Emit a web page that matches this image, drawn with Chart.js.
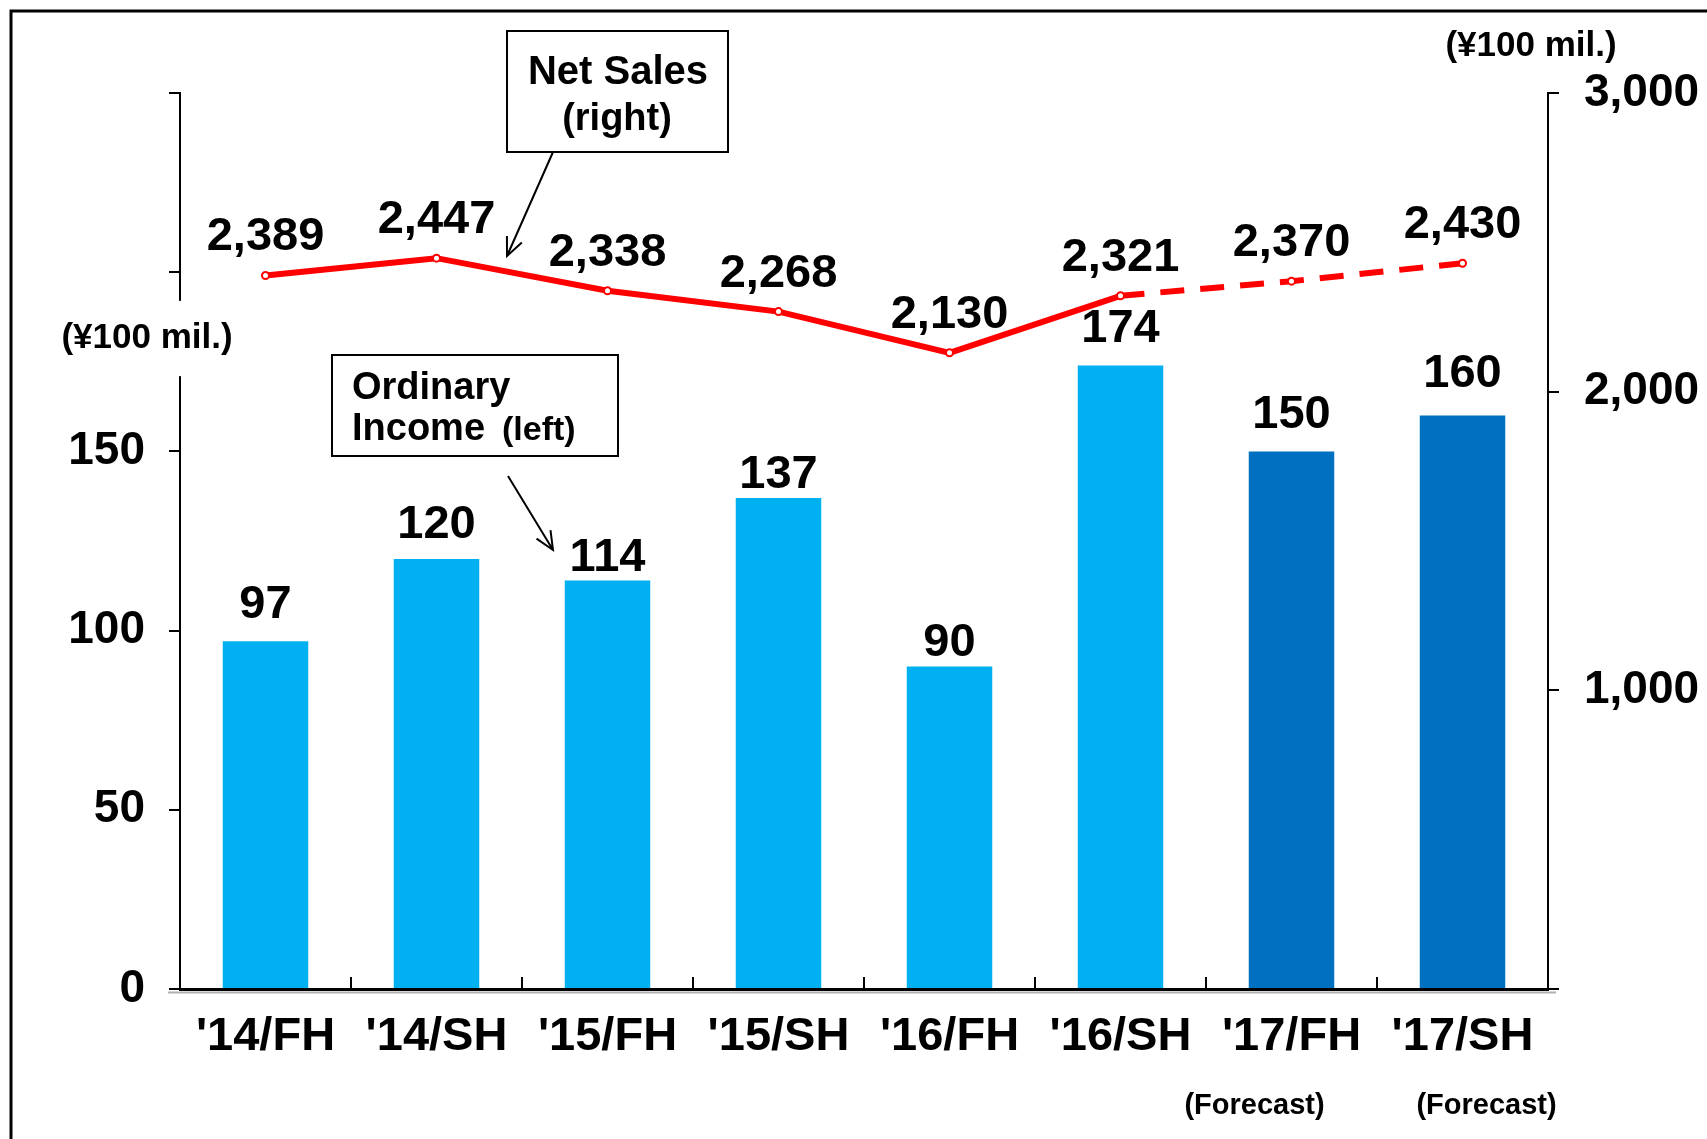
<!DOCTYPE html>
<html>
<head>
<meta charset="utf-8">
<script src="https://cdn.jsdelivr.net/npm/chart.js@4.4.1/dist/chart.umd.min.js"></script>
<style>
  html, body { margin: 0; padding: 0; background: #fff; }
  #wrap { width: 1707px; height: 1139px; }
</style>
</head>
<body>
<div id="wrap"><canvas id="chart" width="1707" height="1139"></canvas></div>
<script>
// ---- data ----
const categories = ["'14/FH", "'14/SH", "'15/FH", "'15/SH", "'16/FH", "'16/SH", "'17/FH", "'17/SH"];
const ordinaryIncome = [97, 120, 114, 137, 90, 174, 150, 160];      // left axis (bars)
const netSales = [2389, 2447, 2338, 2268, 2130, 2321, 2370, 2430];  // right axis (line)
const isForecast = [false, false, false, false, false, false, true, true];
const leftTickValues = [0, 50, 100, 150, 200, 250];
const leftLabelled = [0, 50, 100, 150];
const rightTickValues = [0, 1000, 2000, 3000];
const rightLabelled = [1000, 2000, 3000];

const FONT = "'Liberation Sans', Arial, sans-serif";
Chart.defaults.font.family = FONT;
Chart.defaults.color = '#000';

const fmt = v => v.toLocaleString('en-US');

// value labels above the bars were hand-placed in the original, so gaps differ
const barLabelGap = [23, 21, 9, 10, 10, 23, 23, 29];

// arrow with open V head
function arrow(c, x1, y1, x2, y2) {
  const a = Math.atan2(y2 - y1, x2 - x1);
  const h = 20, s = 0.42;
  c.beginPath();
  c.moveTo(x1, y1); c.lineTo(x2, y2);
  c.moveTo(x2 - h * Math.cos(a - s), y2 - h * Math.sin(a - s));
  c.lineTo(x2, y2);
  c.lineTo(x2 - h * Math.cos(a + s), y2 - h * Math.sin(a + s));
  c.stroke();
}

const decorPlugin = {
  id: 'decor',
  beforeDraw(chart) {
    const c = chart.ctx;
    c.save();
    c.fillStyle = '#fff';
    c.fillRect(0, 0, chart.width, chart.height);
    c.restore();
  },
  afterDatasetsDraw(chart) {
    const c = chart.ctx;
    c.save();
    c.fillStyle = '#000';
    c.textAlign = 'center';
    c.textBaseline = 'alphabetic';
    c.font = 'bold 47px ' + FONT;
    // bar values
    chart.getDatasetMeta(0).data.forEach((bar, i) => {
      c.fillText(fmt(ordinaryIncome[i]), bar.x, bar.y - barLabelGap[i]);
    });
    // line values
    chart.getDatasetMeta(1).data.forEach((pt, i) => {
      c.fillText(fmt(netSales[i]), pt.x, pt.y - 25);
    });
    c.restore();
  },
  afterDraw(chart) {
    const c = chart.ctx;
    const area = chart.chartArea;
    const xs = chart.scales.x;
    const yL = chart.scales.yL;
    c.save();

    // outer frame
    c.strokeStyle = '#000';
    c.lineWidth = 3;
    c.beginPath();
    c.moveTo(11, chart.height + 5);
    c.lineTo(11, 11);
    c.lineTo(chart.width + 5, 11);
    c.stroke();

    // grey shadow under x axis
    c.strokeStyle = '#b0b0b0';
    c.lineWidth = 2;
    c.beginPath();
    c.moveTo(area.left - 12, area.bottom + 3.5);
    c.lineTo(area.right + 8, area.bottom + 3.5);
    c.stroke();

    // short ticks between categories, pointing up
    c.strokeStyle = '#000';
    c.lineWidth = 2;
    c.beginPath();
    for (let i = 1; i < categories.length; i++) {
      const x = Math.round((xs.getPixelForValue(i - 1) + xs.getPixelForValue(i)) / 2);
      c.moveTo(x, area.bottom);
      c.lineTo(x, area.bottom - 12);
    }
    c.stroke();

    // break in left axis + unit label
    const gTop = yL.getPixelForValue(192), gBot = yL.getPixelForValue(171);
    c.fillStyle = '#fff';
    c.fillRect(area.left - 4, gTop, 8, gBot - gTop);
    c.fillStyle = '#000';
    c.textAlign = 'center';
    c.textBaseline = 'middle';
    c.font = 'bold 35px ' + FONT;
    c.fillText('(\u00a5100 mil.)', 147, (gTop + gBot) / 2);
    // right unit label
    c.fillText('(\u00a5100 mil.)', 1531, 46);

    // (Forecast) notes under the 2017 categories
    c.font = 'bold 29px ' + FONT;
    c.fillText('(Forecast)', xs.getPixelForValue(6) - 37, 1106);
    c.fillText('(Forecast)', xs.getPixelForValue(7) + 24, 1106);

    // Net Sales callout
    c.lineWidth = 2;
    c.strokeStyle = '#000';
    c.fillStyle = '#fff';
    c.fillRect(507, 31, 221, 121);
    c.strokeRect(507, 31, 221, 121);
    c.fillStyle = '#000';
    c.textBaseline = 'alphabetic';
    c.font = 'bold 40px ' + FONT;
    c.fillText('Net Sales', 618, 84);
    c.font = 'bold 38px ' + FONT;
    c.fillText('(right)', 617, 130);
    arrow(c, 553, 152, 507, 256);

    // Ordinary Income callout
    c.fillStyle = '#fff';
    c.fillRect(332, 355, 286, 101);
    c.strokeRect(332, 355, 286, 101);
    c.fillStyle = '#000';
    c.textAlign = 'left';
    c.font = 'bold 38px ' + FONT;
    c.fillText('Ordinary', 352, 399);
    c.fillText('Income', 352, 440);
    c.font = 'bold 34px ' + FONT;
    c.fillText('(left)', 502, 440);
    arrow(c, 508, 476, 553, 550);

    c.restore();
  }
};

new Chart(document.getElementById('chart'), {
  data: {
    labels: categories,
    datasets: [
      {
        type: 'bar',
        label: 'Ordinary Income (left)',
        data: ordinaryIncome,
        yAxisID: 'yL',
        backgroundColor: isForecast.map(f => f ? '#0070C0' : '#00B0F0'),
        borderWidth: 0,
        categoryPercentage: 1,
        barPercentage: 0.5,
        order: 2
      },
      {
        type: 'line',
        label: 'Net Sales (right)',
        data: netSales,
        yAxisID: 'yR',
        borderColor: '#FF0000',
        borderWidth: 6,
        pointRadius: 3.5,
        pointBorderWidth: 2,
        pointBackgroundColor: '#fff',
        pointBorderColor: '#FF0000',
        tension: 0,
        fill: false,
        segment: {
          borderDash: ctx => ctx.p0DataIndex >= 5 ? [24, 16] : undefined
        },
        order: 1
      }
    ]
  },
  options: {
    responsive: false,
    animation: false,
    devicePixelRatio: 1,
    layout: { padding: { top: 93, left: 0, right: 0, bottom: 0 } },
    plugins: {
      legend: { display: false },
      tooltip: { enabled: false }
    },
    scales: {
      x: {
        position: 'bottom',
        offset: true,
        grid: { display: false },
        border: { display: true, color: '#000', width: 3 },
        ticks: {
          font: { size: 47, weight: 'bold' },
          color: '#000',
          padding: 12,
          maxRotation: 0,
          autoSkip: false
        },
        afterFit: s => { s.height = 150; }
      },
      yL: {
        position: 'left',
        min: 0,
        max: 250,
        afterBuildTicks: s => { s.ticks = leftTickValues.map(v => ({ value: v })); },
        grid: { drawOnChartArea: false, drawTicks: true, tickLength: 11, color: '#000', lineWidth: 2 },
        border: { display: true, color: '#000', width: 2 },
        ticks: {
          font: { size: 46, weight: 'bold' },
          color: '#000',
          padding: 24,
          callback: v => leftLabelled.includes(v) ? fmt(v) : ''
        },
        afterFit: s => { s.width = 180; }
      },
      yR: {
        position: 'right',
        min: 0,
        max: 3000,
        afterBuildTicks: s => { s.ticks = rightTickValues.map(v => ({ value: v })); },
        grid: { drawOnChartArea: false, drawTicks: true, tickLength: 11, color: '#000', lineWidth: 2 },
        border: { display: true, color: '#000', width: 2 },
        ticks: {
          font: { size: 46, weight: 'bold' },
          color: '#000',
          padding: 25,
          callback: v => rightLabelled.includes(v) ? fmt(v) : ''
        },
        afterFit: s => { s.width = 159; }
      }
    }
  },
  plugins: [decorPlugin]
});
</script>
</body>
</html>
